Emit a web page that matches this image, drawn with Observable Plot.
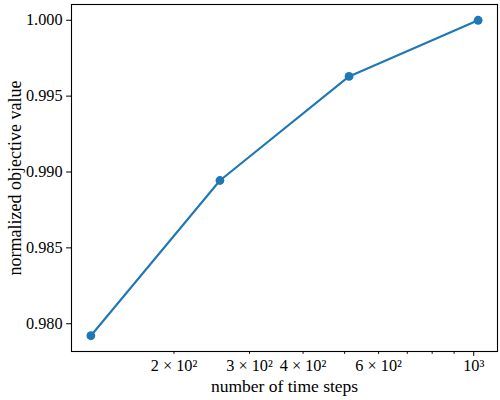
<!DOCTYPE html>
<html>
<head>
<meta charset="utf-8">
<script src="https://cdn.jsdelivr.net/npm/d3@7"></script>
<script src="https://cdn.jsdelivr.net/npm/@observablehq/plot@0.6"></script>
<style>
  html, body { margin: 0; padding: 0; background: white; }
  svg text { font-family: 'Liberation Serif', 'DejaVu Serif', serif !important; font-size: 16.3px !important; fill: black; }
  svg g[aria-label="x-axis label"] text { font-size: 17.5px !important; }
  svg g[aria-label="y-axis label"] text { font-size: 18px !important; }
</style>
</head>
<body>
<div id="chart"></div>
<script>
const steps = [128, 256, 512, 1024];
const objective = [0.97921, 0.98944, 0.99630, 1.0];
const yTicks = [0.980, 0.985, 0.990, 0.995, 1.000];
const xMinorTicks = [200, 300, 400, 500, 600, 700, 800, 900];
const xMinorLabels = ["2 × 10²", "3 × 10²", "4 × 10²", "", "6 × 10²", "", "", ""];
const xMajorTicks = [1000];
const xMajorLabels = ["10³"];

const data = steps.map((s, i) => ({steps: s, value: objective[i]}));

const lx0 = Math.log10(d3.min(steps)), lx1 = Math.log10(d3.max(steps));
const mx = (lx1 - lx0) * 0.05;
const y0 = d3.min(objective), y1 = d3.max(objective);
const my = (y1 - y0) * 0.05;

const minorLabelMap = new Map(xMinorTicks.map((t, i) => [t, xMinorLabels[i]]));
const majorLabelMap = new Map(xMajorTicks.map((t, i) => [t, xMajorLabels[i]]));

const chart = Plot.plot({
  width: 500,
  height: 400,
  marginLeft: 71,
  marginRight: 3,
  marginTop: 4,
  marginBottom: 49,
  style: {color: "black", background: "white"},
  x: {type: "log", domain: [Math.pow(10, lx0 - mx), Math.pow(10, lx1 + mx)]},
  y: {domain: [y0 - my, y1 + my]},
  marks: [
    Plot.axisX({ticks: xMinorTicks, tickSize: 2.8, tickPadding: 4.8, tickFormat: d => minorLabelMap.get(d), label: null}),
    Plot.axisX({ticks: xMajorTicks, tickSize: 4.9, tickPadding: 2.7, tickFormat: d => majorLabelMap.get(d), label: "number of time steps", labelAnchor: "center", labelArrow: "none", labelOffset: 40}),
    Plot.axisY({ticks: yTicks, tickSize: 4.9, tickPadding: 4, tickFormat: d3.format(".3f"), label: "normalized objective value", labelAnchor: "center", labelArrow: "none", labelOffset: 63}),
    Plot.frame({stroke: "black", strokeWidth: 1.1}),
    Plot.line(data, {x: "steps", y: "value", stroke: "#1f77b4", strokeWidth: 2.1}),
    Plot.dot(data, {x: "steps", y: "value", fill: "#1f77b4", r: 4.4, stroke: null})
  ]
});
document.getElementById("chart").appendChild(chart);
</script>
</body>
</html>
